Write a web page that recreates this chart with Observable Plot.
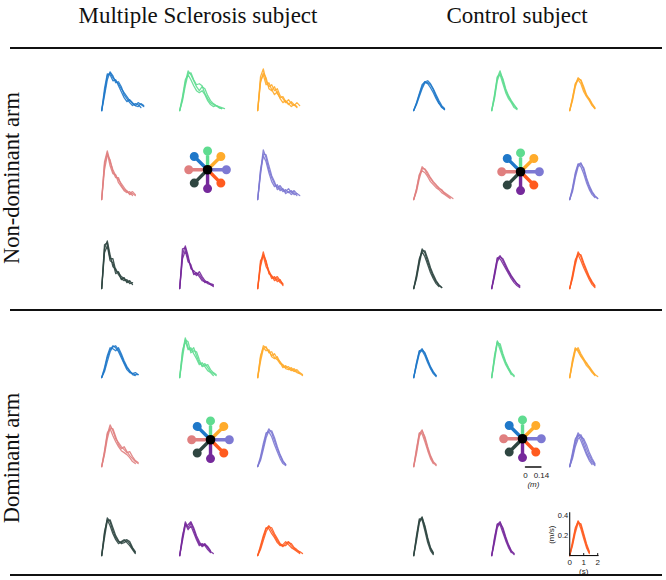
<!DOCTYPE html>
<html><head><meta charset="utf-8">
<script src="https://cdn.jsdelivr.net/npm/d3@7"></script>
<script src="https://cdn.jsdelivr.net/npm/@observablehq/plot@0.6"></script>
<style>body{margin:0;background:#fff}#chart{width:666px;height:580px}</style>
</head><body><div id="chart"></div>
<script>
// ---------- categories ----------
const subjects = ["Multiple Sclerosis subject", "Control subject"];
const arms = ["Non-dominant arm", "Dominant arm"];
const directions = ["blue", "green", "orange", "pink", "lavender", "slate", "purple", "red"];
const dirColors = ["#1f78c9", "#5fdc90", "#ffab2b", "#e07f7f", "#7d79d3", "#2f4641", "#75299b", "#ff5b1f"];
const dirGridCol = [0, 1, 2, 0, 2, 0, 1, 2];
const dirGridRow = [0, 0, 0, 1, 1, 2, 2, 2];
const dirAngle = [315, 0, 45, 270, 90, 225, 180, 135]; // degrees, clockwise from up
const starReach = [0.17, 0.17]; // m, per subject
const scaleBarLen = 0.14; // m
const insetYTicks = [0.2, 0.4];
const insetXTicks = [0, 1, 2];
const tGrid = [0,0.2,0.4,0.6,0.8,1.0,1.2,1.4,1.6,1.8,2.0,2.2,2.4,2.6,2.8,3.0,3.2,3.4,3.6,3.8,4.0]; // s

// ---------- velocity profiles (m/s), sampled on tGrid ----------
// MS subject, non-dominant arm
const msND_blue = [[0,0.18,0.35,0.38,0.33,0.30,0.27,0.22,0.18,0.14,0.10,0.07,0.05,0.08,0.06,0.04],[0,0.22,0.37,0.36,0.30,0.31,0.25,0.19,0.13,0.09,0.11,0.08,0.05,0.04,0.07,0.05],[0,0.15,0.31,0.39,0.35,0.28,0.29,0.24,0.16,0.12,0.08,0.05,0.07,0.06,0.03]];
const msND_green = [[0,0.12,0.28,0.40,0.36,0.30,0.24,0.20,0.24,0.22,0.15,0.10,0.07,0.05,0.04,0.03,0.02],[0,0.10,0.25,0.37,0.38,0.31,0.26,0.27,0.25,0.17,0.12,0.08,0.06,0.05,0.03,0.02],[0,0.14,0.31,0.36,0.31,0.25,0.20,0.18,0.20,0.16,0.10,0.06,0.04,0.05,0.03,0.02]];
const msND_orange = [[0,0.34,0.42,0.30,0.24,0.26,0.20,0.22,0.15,0.12,0.08,0.11,0.07,0.05,0.08,0.05],[0,0.28,0.38,0.33,0.22,0.20,0.24,0.17,0.13,0.14,0.09,0.06,0.09,0.06,0.04],[0,0.30,0.36,0.26,0.28,0.21,0.16,0.19,0.12,0.08,0.10,0.07,0.04,0.06,0.03]];
const msND_pink = [[0,0.38,0.49,0.38,0.30,0.24,0.20,0.16,0.12,0.08,0.06,0.08,0.05],[0,0.30,0.45,0.40,0.28,0.22,0.22,0.14,0.10,0.09,0.05,0.06,0.04],[0,0.35,0.47,0.34,0.26,0.25,0.17,0.13,0.09,0.07,0.08,0.04]];
const msND_lavender = [[0,0.28,0.50,0.42,0.30,0.22,0.16,0.12,0.14,0.10,0.08,0.11,0.07,0.09,0.06,0.04],[0,0.25,0.46,0.45,0.34,0.24,0.18,0.10,0.12,0.08,0.10,0.07,0.09,0.05,0.06],[0,0.30,0.44,0.38,0.27,0.18,0.13,0.15,0.09,0.11,0.06,0.08,0.05,0.07,0.04]];
const msND_slate = [[0,0.44,0.46,0.30,0.30,0.18,0.16,0.12,0.10,0.07,0.08,0.04],[0,0.40,0.48,0.34,0.22,0.20,0.14,0.10,0.08,0.09,0.05,0.06],[0,0.36,0.43,0.28,0.26,0.15,0.17,0.09,0.11,0.06,0.07]];
const msND_purple = [[0,0.40,0.41,0.30,0.22,0.16,0.13,0.17,0.12,0.08,0.06,0.05,0.04],[0,0.34,0.43,0.33,0.20,0.18,0.15,0.12,0.08,0.07,0.05,0.04,0.03],[0,0.30,0.38,0.27,0.24,0.14,0.16,0.14,0.10,0.06,0.07,0.04,0.02]];
const msND_red = [[0,0.25,0.37,0.26,0.18,0.12,0.10,0.12,0.08,0.05],[0,0.22,0.34,0.28,0.15,0.13,0.08,0.10,0.06,0.04],[0,0.28,0.33,0.22,0.17,0.10,0.12,0.07,0.09,0.03]];
// Control subject, non-dominant arm
const ctND_blue = [[0,0.07,0.16,0.24,0.29,0.30,0.27,0.22,0.16,0.10,0.05,0.02],[0,0.06,0.14,0.22,0.28,0.28,0.26,0.21,0.14,0.08,0.03,0.01],[0,0.08,0.17,0.26,0.29,0.27,0.23,0.18,0.12,0.07,0.04,0.01]];
const ctND_green = [[0,0.14,0.33,0.40,0.30,0.20,0.14,0.09,0.05,0.02],[0,0.12,0.30,0.38,0.32,0.22,0.15,0.10,0.06,0.02],[0,0.16,0.34,0.36,0.27,0.18,0.12,0.08,0.03,0.01]];
const ctND_orange = [[0,0.12,0.26,0.33,0.30,0.22,0.15,0.12,0.07,0.03],[0,0.10,0.24,0.32,0.31,0.24,0.16,0.11,0.06,0.02],[0,0.13,0.27,0.31,0.27,0.19,0.14,0.10,0.05,0.02]];
const ctND_pink = [[0,0.10,0.24,0.33,0.30,0.25,0.21,0.17,0.14,0.12,0.09,0.07,0.05,0.03,0.01],[0,0.08,0.21,0.31,0.31,0.27,0.22,0.18,0.15,0.11,0.10,0.06,0.04,0.02],[0,0.11,0.25,0.29,0.27,0.23,0.18,0.15,0.12,0.10,0.07,0.05,0.03,0.01]];
const ctND_lavender = [[0,0.10,0.25,0.35,0.37,0.30,0.20,0.12,0.07,0.03,0.01],[0,0.08,0.22,0.33,0.36,0.32,0.22,0.14,0.08,0.04,0.01],[0,0.12,0.27,0.36,0.33,0.26,0.17,0.10,0.05,0.02]];
const ctND_slate = [[0,0.12,0.28,0.40,0.36,0.27,0.19,0.12,0.07,0.03,0.01],[0,0.10,0.25,0.38,0.38,0.30,0.21,0.14,0.08,0.04,0.01],[0,0.14,0.30,0.37,0.32,0.24,0.16,0.10,0.05,0.02]];
const ctND_purple = [[0,0.14,0.30,0.33,0.28,0.22,0.17,0.12,0.08,0.05,0.02],[0,0.12,0.27,0.32,0.30,0.24,0.18,0.13,0.09,0.05,0.03],[0,0.16,0.31,0.30,0.25,0.20,0.15,0.10,0.06,0.03,0.01]];
const ctND_red = [[0,0.12,0.27,0.37,0.32,0.24,0.17,0.11,0.06,0.02],[0,0.10,0.24,0.35,0.34,0.26,0.19,0.12,0.07,0.03],[0,0.14,0.29,0.34,0.28,0.21,0.15,0.09,0.04,0.01]];
// MS subject, dominant arm
const msD_blue = [[0,0.08,0.20,0.28,0.32,0.30,0.26,0.20,0.14,0.08,0.05,0.04,0.03,0.03],[0,0.06,0.16,0.26,0.31,0.32,0.28,0.22,0.15,0.10,0.06,0.04,0.05,0.03],[0,0.10,0.22,0.30,0.29,0.27,0.30,0.24,0.17,0.11,0.07,0.03,0.02]];
const msD_green = [[0,0.25,0.40,0.30,0.27,0.30,0.22,0.15,0.12,0.14,0.10,0.06,0.04,0.02],[0,0.20,0.38,0.36,0.25,0.27,0.26,0.18,0.11,0.12,0.13,0.08,0.05,0.03],[0,0.27,0.37,0.28,0.30,0.24,0.19,0.13,0.15,0.11,0.07,0.05,0.02]];
const msD_orange = [[0,0.20,0.32,0.30,0.26,0.22,0.24,0.19,0.16,0.12,0.10,0.11,0.08,0.06,0.08,0.05,0.03],[0,0.16,0.29,0.31,0.25,0.26,0.20,0.18,0.14,0.13,0.09,0.08,0.10,0.07,0.05,0.04],[0,0.22,0.30,0.27,0.28,0.21,0.19,0.21,0.15,0.10,0.12,0.09,0.07,0.09,0.06,0.04,0.02]];
const msD_pink = [[0,0.14,0.32,0.42,0.36,0.28,0.24,0.20,0.17,0.14,0.15,0.10,0.06,0.04],[0,0.12,0.28,0.39,0.38,0.30,0.22,0.18,0.20,0.15,0.11,0.08,0.05,0.03],[0,0.16,0.34,0.38,0.31,0.25,0.20,0.16,0.14,0.12,0.09,0.05,0.03]];
const msD_lavender = [[0,0.08,0.20,0.32,0.38,0.34,0.26,0.18,0.11,0.05,0.02],[0,0.06,0.17,0.29,0.36,0.36,0.29,0.20,0.12,0.06,0.02],[0,0.10,0.23,0.34,0.35,0.30,0.22,0.15,0.08,0.03,0.01]];
const msD_slate = [[0,0.22,0.38,0.34,0.25,0.18,0.14,0.13,0.15,0.16,0.14,0.08,0.04],[0,0.18,0.35,0.36,0.28,0.20,0.15,0.12,0.13,0.15,0.12,0.07,0.03],[0,0.24,0.36,0.30,0.22,0.16,0.12,0.14,0.16,0.13,0.10,0.06,0.02]];
const msD_purple = [[0,0.18,0.34,0.28,0.33,0.26,0.18,0.12,0.10,0.12,0.08,0.04,0.02],[0,0.15,0.30,0.31,0.34,0.28,0.20,0.14,0.09,0.11,0.09,0.05],[0,0.20,0.32,0.26,0.30,0.23,0.16,0.10,0.12,0.10,0.06,0.03]];
const msD_red = [[0,0.08,0.18,0.27,0.30,0.25,0.20,0.15,0.11,0.09,0.12,0.14,0.10,0.07,0.05,0.04,0.02],[0,0.06,0.15,0.24,0.29,0.28,0.22,0.17,0.12,0.10,0.10,0.13,0.12,0.08,0.06,0.03],[0,0.10,0.20,0.28,0.27,0.22,0.18,0.13,0.10,0.11,0.14,0.11,0.08,0.06,0.04,0.02]];
// Control subject, dominant arm
const ctD_blue = [[0,0.14,0.26,0.29,0.24,0.17,0.10,0.05,0.02],[0,0.12,0.24,0.28,0.25,0.18,0.11,0.06,0.02],[0,0.15,0.27,0.27,0.22,0.15,0.09,0.04,0.01]];
const ctD_green = [[0,0.20,0.37,0.31,0.22,0.15,0.09,0.04,0.01],[0,0.17,0.35,0.34,0.24,0.16,0.10,0.05,0.02],[0,0.22,0.36,0.28,0.20,0.13,0.08,0.03]];
const ctD_orange = [[0,0.16,0.29,0.28,0.22,0.18,0.15,0.10,0.06,0.03,0.01],[0,0.14,0.27,0.30,0.24,0.19,0.14,0.11,0.07,0.03],[0,0.18,0.30,0.26,0.21,0.17,0.12,0.09,0.05,0.02]];
const ctD_pink = [[0,0.16,0.33,0.37,0.28,0.18,0.10,0.04,0.01],[0,0.13,0.30,0.36,0.30,0.20,0.11,0.05,0.02],[0,0.18,0.34,0.33,0.25,0.16,0.08,0.03]];
const ctD_lavender = [[0,0.12,0.26,0.34,0.30,0.22,0.14,0.08,0.04,0.01],[0,0.10,0.23,0.31,0.32,0.26,0.18,0.11,0.06,0.02],[0,0.14,0.28,0.32,0.26,0.19,0.12,0.06,0.02],[0,0.08,0.20,0.28,0.30,0.28,0.22,0.14,0.08,0.03]];
const ctD_slate = [[0,0.18,0.35,0.39,0.28,0.16,0.07,0.02],[0,0.15,0.33,0.38,0.30,0.18,0.08,0.03],[0,0.20,0.37,0.36,0.25,0.13,0.05,0.01]];
const ctD_purple = [[0,0.16,0.31,0.34,0.26,0.17,0.10,0.04,0.01],[0,0.13,0.28,0.33,0.28,0.19,0.11,0.05,0.02],[0,0.18,0.32,0.31,0.23,0.15,0.08,0.03]];
const ctD_red = [[0,0.12,0.26,0.35,0.30,0.20,0.10,0.03],[0,0.10,0.23,0.33,0.32,0.22,0.12,0.04],[0,0.14,0.28,0.34,0.27,0.17,0.08,0.02]];

// groups: [subject index, arm index, profiles in direction order]
const groups = [
  [0, 0, [msND_blue, msND_green, msND_orange, msND_pink, msND_lavender, msND_slate, msND_purple, msND_red]],
  [1, 0, [ctND_blue, ctND_green, ctND_orange, ctND_pink, ctND_lavender, ctND_slate, ctND_purple, ctND_red]],
  [0, 1, [msD_blue, msD_green, msD_orange, msD_pink, msD_lavender, msD_slate, msD_purple, msD_red]],
  [1, 1, [ctD_blue, ctD_green, ctD_orange, ctD_pink, ctD_lavender, ctD_slate, ctD_purple, ctD_red]]
];

// ---------- layout (facet cells) ----------
const fxDomain = ["s0c0", "s0c1", "s0c2", "gap", "s1c0", "s1c1", "s1c2"];
const fyDomain = ["a0r0", "a0r1", "a0r2", "a1r0", "a1r1", "a1r2"];
const fxOf = (s, c) => `s${s}c${c}`;
const fyOf = (a, r) => `a${a}r${r}`;
// star anchor inside the centre cell, in that cell's (t, v) frame: [subject, arm, t, v]
const starAnchors = [[0, 0, 1.99, 0.30], [1, 0, 2.06, 0.28], [0, 1, 2.2, 0.27], [1, 1, 2.2, 0.28]];
const scaleBarAnchor = {s: 1, a: 1, t: 2.41, v: -0.005};
const insetCell = {s: 1, a: 1, dir: 7};

// ---------- tables ----------
const traceRows = [];
groups.forEach(([s, a, profiles]) => {
  profiles.forEach((reps, d) => {
    reps.forEach((vals, k) => {
      vals.forEach((v, i) => traceRows.push({
        fx: fxOf(s, dirGridCol[d]), fy: fyOf(a, dirGridRow[d]),
        id: `${s}-${a}-${d}-${k}`, dir: directions[d], t: tGrid[i], v
      }));
    });
  });
});
const armRows = [];
starAnchors.forEach(([s, a, t, v]) => directions.forEach((dir, d) => armRows.push({
  fx: fxOf(s, 1), fy: fyOf(a, 1), t, v, dir, angle: dirAngle[d], reach: starReach[s]
})));
const starCentres = starAnchors.map(([s, a, t, v]) => ({fx: fxOf(s, 1), fy: fyOf(a, 1), t, v}));
const barRow = [{fx: fxOf(scaleBarAnchor.s, 1), fy: fyOf(scaleBarAnchor.a, 1), t: scaleBarAnchor.t, v: scaleBarAnchor.v, len: scaleBarLen}];
const insFx = fxOf(insetCell.s, dirGridCol[insetCell.dir]), insFy = fyOf(insetCell.a, dirGridRow[insetCell.dir]);
const insetOne = [{fx: insFx, fy: insFy}];
const insetY = insetYTicks.map(v => ({fx: insFx, fy: insFy, v, label: String(v)}));
const insetX = insetXTicks.map(t => ({fx: insFx, fy: insFy, t, label: String(t)}));

const lollipop = {
  draw(context, l) {
    context.moveTo(0, 0); context.lineTo(0, -l);
    context.moveTo(2.8, -l); context.arc(0, -l, 2.8, 0, 2 * Math.PI);
    context.moveTo(1.3, -l); context.arc(0, -l, 1.3, 0, 2 * Math.PI);
  }
};
const bar = { draw(context, l) { context.moveTo(0, 0); context.lineTo(0, -l); } };

const sans = "Liberation Sans, Arial, sans-serif";
const plot = Plot.plot({
  width: 666, height: 580,
  marginLeft: 90, marginRight: 30, marginTop: 25, marginBottom: 17,
  fx: {domain: fxDomain, padding: 0, axis: null},
  fy: {domain: fyDomain, padding: 0, axis: null},
  x: {domain: [-0.8, 4.77], axis: null},
  y: {domain: [-0.06, 0.8367], axis: null},
  color: {domain: directions, range: dirColors},
  length: {domain: [0, 0.14], range: [0, 15.5]},
  style: {background: "white"},
  marks: [
    Plot.line(traceRows, {fx: "fx", fy: "fy", x: "t", y: "v", z: "id", stroke: "dir", strokeWidth: 1.3, strokeOpacity: 0.9}),
    Plot.vector(armRows, {fx: "fx", fy: "fy", x: "t", y: "v", length: "reach", rotate: "angle", anchor: "start",
      stroke: "dir", strokeWidth: 3.4, strokeLinecap: "round", shape: lollipop}),
    Plot.dot(starCentres, {fx: "fx", fy: "fy", x: "t", y: "v", r: 4.8, fill: "black"}),
    // scale bar under control dominant-arm star
    Plot.vector(barRow, {fx: "fx", fy: "fy", x: "t", y: "v", length: "len", rotate: 90, anchor: "start", stroke: "#111", strokeWidth: 1.4, shape: bar}),
    Plot.text(barRow, {fx: "fx", fy: "fy", x: "t", y: "v", text: () => "0", dy: 8, fontSize: 8, fontFamily: sans, fill: "#222"}),
    Plot.text(barRow, {fx: "fx", fy: "fy", x: "t", y: "v", text: d => String(d.len), dx: 16, dy: 8, fontSize: 8, fontFamily: sans, fill: "#222"}),
    Plot.text(barRow, {fx: "fx", fy: "fy", x: "t", y: "v", text: () => "(m)", dx: 8, dy: 17, fontSize: 8, fontFamily: sans, fontStyle: "italic", fill: "#222"}),
    // inset axes on control dominant-arm lower-right cell
    Plot.ruleX(insetOne, {fx: "fx", fy: "fy", x: 0, y1: 0, y2: 0.43, stroke: "#111", strokeWidth: 1.1}),
    Plot.ruleY(insetOne, {fx: "fx", fy: "fy", y: 0, x1: 0, x2: 2.1, stroke: "#111", strokeWidth: 1.1}),
    Plot.ruleX(insetX, {fx: "fx", fy: "fy", x: "t", y1: 0, y2: 0.02, stroke: "#111"}),
    Plot.text(insetY, {fx: "fx", fy: "fy", x: 0, y: "v", text: "label", textAnchor: "end", dx: -1.5, fontSize: 7.5, fontFamily: sans, fill: "#222"}),
    Plot.text(insetX, {fx: "fx", fy: "fy", x: "t", y: 0, text: "label", dy: 7, fontSize: 8, fontFamily: sans, fill: "#222"}),
    Plot.text(insetOne, {fx: "fx", fy: "fy", x: 1, y: 0, text: () => "(s)", dy: 16, fontSize: 8, fontFamily: sans, fill: "#222"}),
    Plot.text(insetOne, {fx: "fx", fy: "fy", x: 0, y: 0.21, text: () => "(m/s)", rotate: -90, dx: -18, fontSize: 8, fontFamily: sans, fill: "#222"})
  ]
});

// ---------- titles, row labels and rules ----------
const svg = d3.select(plot);
const serif = "Liberation Serif, Times New Roman, serif";
const headerX = [198, 517];
subjects.forEach((s, i) => svg.append("text").attr("x", headerX[i]).attr("y", 23)
  .attr("text-anchor", "middle").attr("font-family", serif).attr("font-size", 23).attr("fill", "#111").text(s));
const armLabelY = [178, 458];
arms.forEach((a, i) => svg.append("text").attr("transform", `translate(19,${armLabelY[i]}) rotate(-90)`)
  .attr("text-anchor", "middle").attr("font-family", serif).attr("font-size", 22.5).attr("fill", "#111").text(a));
[48, 310, 575].forEach(y => svg.append("line").attr("x1", 10).attr("x2", 662).attr("y1", y).attr("y2", y)
  .attr("stroke", "#111").attr("stroke-width", 2.2));

document.getElementById("chart").appendChild(plot);
</script>
</body></html>
